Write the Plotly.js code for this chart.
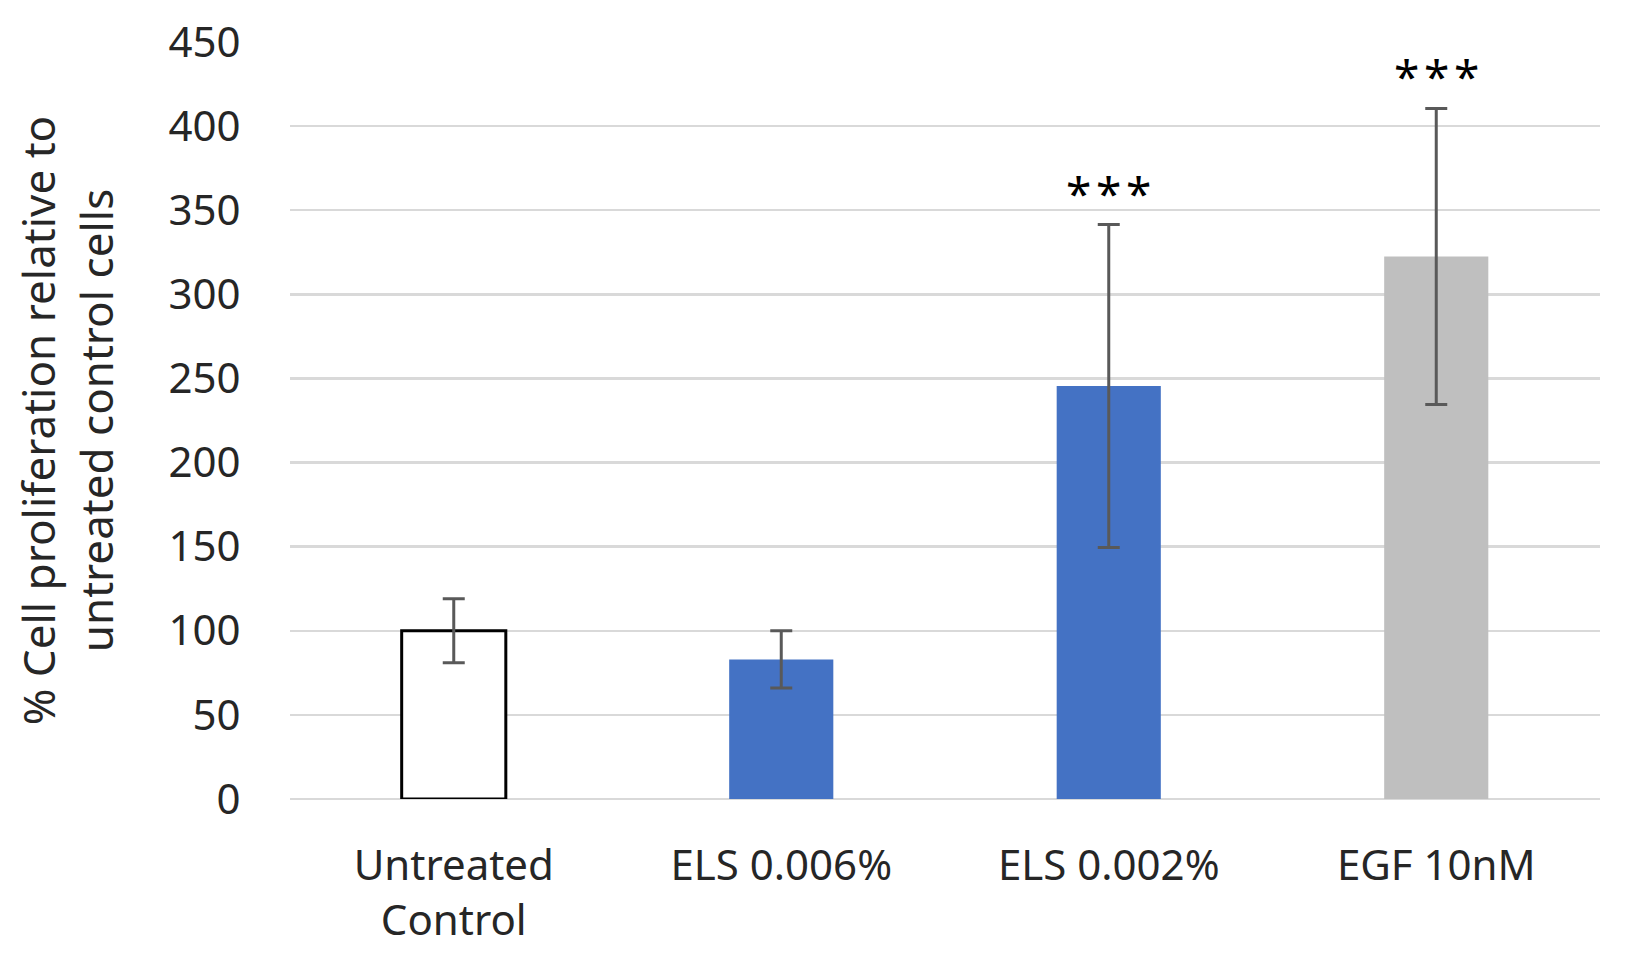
<!DOCTYPE html>
<html>
<head>
<meta charset="utf-8">
<script src="https://cdn.plot.ly/plotly-3.0.1.min.js"></script>
<style>
html,body{margin:0;padding:0;background:#fff;}
#chart{width:1625px;height:962px;}
</style>
</head>
<body>
<div id="chart"></div>
<script>
// Data
const categories = ["Untreated<br>Control", "ELS 0.006%", "ELS 0.002%", "EGF 10nM"];
const means = [100, 83, 245.5, 322.5];
const errors = [19, 17, 96, 88];
const significance = ["", "", "*\u200A*\u200A*", "*\u200A*\u200A*"];
const yTicks = [0, 50, 100, 150, 200, 250, 300, 350, 400, 450];

const barColors = ["#ffffff", "#4472C4", "#4472C4", "#BFBFBF"];
const barLineColors = ["#000000", "#4472C4", "#4472C4", "#BFBFBF"];
const barLineWidths = [3, 0, 0, 0];

const FONT = "Noto Sans, Open Sans, sans-serif";
const TXT = "#262626";

const trace = {
  type: "bar",
  x: categories,
  y: means,
  marker: {
    color: barColors,
    line: { color: barLineColors, width: barLineWidths }
  },
  error_y: {
    type: "data",
    array: errors,
    visible: true,
    color: "#595959",
    thickness: 3,
    width: 11
  },
  hoverinfo: "skip"
};

const annotations = categories.map((c, i) => ({
  x: c,
  y: means[i] + errors[i],
  text: significance[i],
  showarrow: false,
  yanchor: "middle",
  yshift: 32,
  font: { family: FONT, size: 46, color: "#000000" }
})).filter((a, i) => significance[i] !== "");

const layout = {
  width: 1625,
  height: 962,
  margin: { l: 290, r: 25, t: 42, b: 163, pad: 0 },
  paper_bgcolor: "#ffffff",
  plot_bgcolor: "#ffffff",
  showlegend: false,
  bargap: 0.682,
  font: { family: FONT, size: 42, color: TXT },
  xaxis: {
    type: "category",
    showgrid: false,
    zeroline: false,
    showline: false,
    ticks: "outside",
    ticklen: 30,
    tickcolor: "rgba(0,0,0,0)",
    tickfont: { family: FONT, size: 42, color: TXT },
    automargin: false
  },
  yaxis: {
    range: [0, 450],
    tickvals: yTicks,
    ticktext: yTicks.map(String),
    showgrid: true,
    gridcolor: "#D9D9D9",
    gridwidth: 2.5,
    zeroline: true,
    zerolinecolor: "#D9D9D9",
    zerolinewidth: 2.5,
    showline: false,
    ticks: "outside",
    ticklen: 40,
    tickcolor: "rgba(0,0,0,0)",
    tickfont: { family: FONT, size: 42, color: TXT },
    automargin: false,
    title: {
      text: "% Cell proliferation relative to<br>untreated control cells",
      font: { family: FONT, size: 44, color: TXT },
      standoff: 41
    }
  },
  annotations: annotations
};

Plotly.newPlot("chart", [trace], layout, { displayModeBar: false, staticPlot: true });
</script>
</body>
</html>
